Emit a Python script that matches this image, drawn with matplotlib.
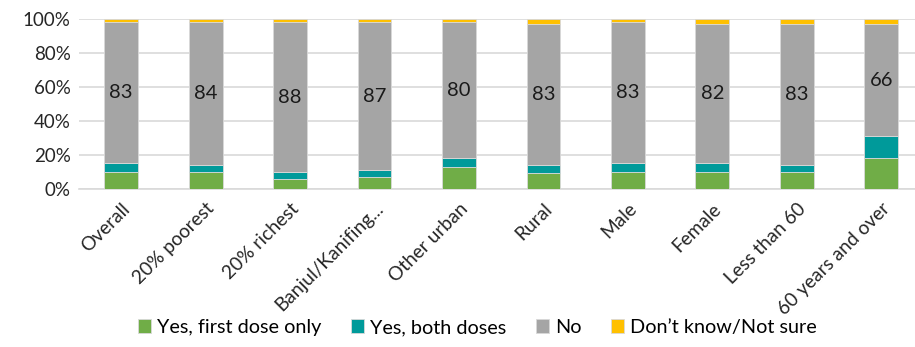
import numpy
import matplotlib
matplotlib.use("Agg")
import matplotlib.pyplot as plt

plt.rcParams['font.family'] = ['Lato', 'DejaVu Sans']

#catégories (axe des x)
groupes = ['Overall', '20% poorest', '20% richest', 'Banjul/Kanifing...',
           'Other urban', 'Rural', 'Male', 'Female', 'Less than 60',
           '60 years and over']

#pourcentages par réponse
premiere_dose = [10, 10, 6, 7, 13, 9, 10, 10, 10, 18]
deux_doses = [5, 4, 4, 4, 5, 5, 5, 5, 4, 13]
non = [83, 84, 88, 87, 80, 83, 83, 82, 83, 66]
nsp = [2, 2, 2, 2, 2, 3, 2, 3, 3, 3]

series = [premiere_dose, deux_doses, non, nsp]
noms = ['Yes, first dose only', 'Yes, both doses', 'No', 'Don\u2019t know/Not sure']
couleurs = ['#70AD47', '#009A9A', '#A5A5A5', '#FFC000']

fig = plt.figure(figsize=(9.15, 3.47), dpi=100)
axes = fig.add_axes([0.0863, 0.456, 0.9137, 0.489])

x = numpy.arange(len(groupes))
bas = numpy.zeros(len(groupes))
barres = []
for s in range(len(series)):
    v = numpy.array(series[s], dtype=float)
    b = axes.bar(x, v, 0.4, bottom=bas, color=couleurs[s], edgecolor='#d9d9d9',
                 linewidth=0.6, label=noms[s], zorder=3)
    barres.append(b)
    #étiquettes de la série "No"
    if s == 2:
        for i in range(len(v)):
            axes.text(x[i], bas[i] + v[i] / 2, str(int(v[i])), ha='center',
                      va='center', fontsize=14.5, color='#1a1a1a', zorder=4)
    bas = bas + v

axes.set_xlim(-0.5, 9.4)
axes.set_ylim(0, 100)
axes.set_yticks(numpy.arange(0, 101, 20))
axes.set_yticklabels([str(t) + '%' for t in range(0, 101, 20)], fontsize=13.5)
axes.set_xticks(x)
axes.set_xticklabels(groupes, rotation=45, ha='right', rotation_mode='anchor',
                     fontsize=13.8)
axes.tick_params(axis='y', length=0, pad=6, colors='#262626')
axes.tick_params(axis='x', length=0, pad=8, colors='#262626')
axes.grid(axis='y', color='#d9d9d9', linewidth=1.2, zorder=0)
for c in ['top', 'right', 'left']:
    axes.spines[c].set_visible(False)
axes.spines['bottom'].set_color('#d9d9d9')
axes.spines['bottom'].set_linewidth(1.2)

#légende en bas
fig.legend(handles=barres, labels=noms, loc='lower center',
           bbox_to_anchor=(0.522, -0.02), ncol=4, frameon=False, fontsize=14.3,
           handlelength=0.65, handleheight=0.65, handletextpad=0.3,
           columnspacing=1.5)

fig.savefig('out.png', dpi=100)
